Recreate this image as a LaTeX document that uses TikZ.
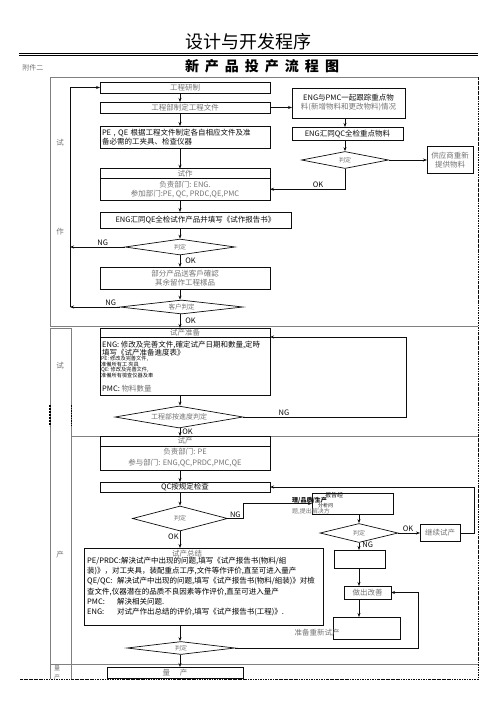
\documentclass[tikz,border=0pt]{standalone}
\usepackage{fontspec}
\setmainfont{Noto Sans CJK SC}
\usepackage{tikz}
\usetikzlibrary{arrows.meta, calc, positioning, shapes.geometric}
\definecolor{mainBlack}{gray}{0.05}
\definecolor{subGray}{gray}{0.45}
\definecolor{lineGray}{gray}{0.5}

\begin{document}
\begin{tikzpicture}[x=1pt, y=-1pt, >={Stealth[length=4pt,width=3pt]},
    box/.style={draw, mainBlack, text=mainBlack, line width=0.7pt, inner sep=1pt, outer sep=0pt, font=\fontsize{7.5}{9}\selectfont, align=center},
    gbox/.style={box, text=subGray},
    judge/.style={draw, diamond, mainBlack, line width=0.7pt, inner sep=0pt, text=subGray, font=\fontsize{6}{7}\selectfont},
    flow/.style={->, mainBlack, line width=0.7pt},
    lbl/.style={font=\fontsize{7.5}{8}\selectfont, inner sep=1pt, text=mainBlack},
    tinytxt/.style={font=\fontsize{5.2}{5.2}\selectfont, inner sep=0pt, text=mainBlack},
    frame/.style={lineGray, line width=0.6pt},
    edge/.style={mainBlack, line width=0.6pt, dash pattern=on 2.5pt off 1pt on 0.6pt off 1pt}]

    \useasboundingbox (0,0) rectangle (496,702);
    \coordinate (col) at (180,0);  % main column
    \coordinate (col2) at (345,0);
    \coordinate (col3) at (359,0);
    \coordinate (loop) at (70,0);
    \coordinate (ng3) at (406,0);
    \coordinate (rl) at (418,0);

    % Title
    \node[font=\fontsize{18}{20}\selectfont] (title) at (248,42) {设计与开发程序};
    \draw[line width=1pt] (19,53) -- (478,53);
    \draw[line width=0.5pt] (19,55.6) -- (478,55.6);
    \node[font=\fontsize{7}{8}\selectfont, text=subGray] (fj) at (33,68) {附件二};
    \node[font=\fontsize{14}{16}\selectfont\bfseries] (sub) at (262,66) {新\hspace{6pt}产\hspace{6pt}品\hspace{6pt}投\hspace{6pt}产\hspace{6pt}流\hspace{6pt}程\hspace{6pt}图};

    % Frames
    \draw[frame] (478,77) -- (50,77) -- (50,326) -- (478,326);
    \draw[frame] (50,679) -- (50,328) -- (71,328) -- (71,679);
    \draw[frame] (71,436) -- (478,436);
    \draw[frame] (50,664) -- (478,664);
    \draw[edge] (478,77) -- (478,679);
    \draw[edge] (20,679) -- (478,679);
    \draw[line width=1.2pt, dash pattern=on 2pt off 1pt] (50,405) -- (50,426);
    \draw[line width=0.8pt, dash pattern=on 1.5pt off 1pt] (71,405) -- (71,426);

    % Section labels
    \node[lbl, text=subGray] (s1a) at (60,143) {试};
    \node[lbl, text=subGray] (s1b) at (60,232) {作};
    \node[lbl, text=subGray] (s2a) at (60,366) {试};
    \node[lbl, text=subGray] (s2b) at (60,555) {产};
    \node[tinytxt, font=\fontsize{6}{6}\selectfont, text=subGray] (s3a) at (57,668) {量};
    \node[tinytxt, font=\fontsize{6}{6}\selectfont, text=subGray] (s3b) at (57,677) {产};

    % Trial making
    \node[gbox, minimum width=170pt, minimum height=11pt] (yz) at (185,87.5) {工程研制};
    \node[gbox, minimum width=170pt, minimum height=11pt] (wj) at (185,107.5) {工程部制定工程文件};
    \node[box, minimum width=113pt, minimum height=30pt] (gz) at (348.5,103) {ENG与PMC一起跟踪重点物\\\textcolor{subGray}{料(新增物料和更改物料)情况}};
    \node[box, minimum width=170pt, minimum height=22pt, align=left, text width=166pt] (pe) at (185,137) {PE , QE 根据工程文件制定各自相应文件及准\\备必需的工夹具、检查仪器};
    \node[box, minimum width=111pt, minimum height=13pt] (qc1) at (347.5,133.5) {ENG汇同QC全检重点物料};
    \node[judge, aspect=5.1, minimum width=87pt, minimum height=17pt] (dr1) at (345,160) {判定};
    \node[gbox, minimum width=46pt, minimum height=27pt] (gy) at (450,160) {供应商重新\\提供物料};
    \node[gbox, minimum width=170pt, minimum height=9.5pt] (szh) at (185,173.5) {试作};
    \node[gbox, minimum width=170pt, minimum height=22pt, below=0pt of szh] (szb) {负责部门: ENG.\\参加部门:PE, QC, PRDC,QE,PMC};
    \node[box, minimum width=191pt, minimum height=16pt] (qe) at (195.5,220) {ENG汇同QE全检试作产品并填写《试作报告书》};
    \node[judge, aspect=6.9, minimum width=110pt, minimum height=16pt] (dj1) at (180,247) {判定};
    \node[gbox, minimum width=170pt, minimum height=22pt] (kh) at (185,278) {部分产品送客戶確認\\其余留作工程樣品};
    \node[judge, aspect=8.8, minimum width=123pt, minimum height=14pt, font=\fontsize{6.5}{7}\selectfont] (dj2) at (181.5,307) {客户判定};

    \draw[flow] (yz.south -| col) -- (wj.north -| col);
    \draw[flow] (wj.south -| col) -- (pe.north -| col);
    \draw[flow] (pe.south -| col) -- (szh.north -| col);
    \draw[flow] (szb.south -| col) -- (qe.north -| col);
    \draw[flow] (qe.south -| col) -- (dj1.north);
    \draw[flow] (dj1.south) -- (kh.north -| col) node[lbl, right, pos=0.5, xshift=4pt] {OK};
    \draw[flow] (kh.south -| col) -- (dj2.north -| col);
    \draw[flow] (wj.east) -- (wj.east -| gz.west);
    \draw[flow] (gz.south -| col2) -- (qc1.north -| col2);
    \draw[flow] (qc1.south -| col2) -- (dr1.north);
    \draw[flow] (dr1.east) -- (dr1.east -| gy.west);
    \draw[flow] (dr1.south) |- node[lbl, above, pos=0.68] {OK} (szb.east);
    \draw[flow] (dj1.west) -- node[lbl, above, pos=0.4] {NG} (dj1.west -| loop);
    \draw[flow] (dj2.west) -- node[lbl, above, pos=0.18] {NG} (dj2.west -| loop);
    \draw[flow] (dj2.west -| loop) |- (yz.west);

    % Trial production: preparation
    \node[gbox, minimum width=170pt, minimum height=9pt] (zbh) at (185,332.5) {试产准备};
    \node[box, minimum width=170pt, minimum height=58pt, below=0pt of zbh] (zbb) {};
    \draw[flow] (dj2.south -| col) -- node[lbl, right, pos=0.45, xshift=4pt] {OK} (zbh.north -| col);
    \node[lbl, anchor=west] (zb1) at (101,345) {ENG: 修改及完善文件,確定试产日期和數量,定時};
    \node[lbl, anchor=west] (zb2) at (101,352.5) {填写《试产准备進度表》};
    \node[tinytxt, anchor=west] (zb3) at (101,359) {PE: 修改及完善文件,};
    \node[tinytxt, anchor=west] (zb4) at (101,364.5) {准備所有工 夾具};
    \node[tinytxt, anchor=west] (zb5) at (101,370) {QE: 修改及完善文件,};
    \node[tinytxt, anchor=west] (zb6) at (101,375.5) {准備所有檢查仪器及車};
    \node[lbl, anchor=west] (zb7) at (101,389) {PMC: \textcolor{subGray}{物料數量}};
    \node[judge, aspect=5.8, minimum width=128pt, minimum height=22pt, font=\fontsize{7}{7}\selectfont] (dj3) at (179,417) {工程部按進度判定};
    \draw[flow] (zbb.south -| col) -- (dj3.north -| col);
    \draw[flow] (dj3.east) -- node[lbl, above, pos=0.25] {NG} (dj3.east -| ng3) |- (zbh.south east);

    % Trial production
    \node[gbox, minimum width=170pt, minimum height=10pt] (sch) at (185,441) {试产};
    \node[gbox, minimum width=170pt, minimum height=24pt, below=0pt of sch, font=\fontsize{7.5}{11}\selectfont] (scb) {负责部门: PE\\参与部门: ENG,QC,PRDC,PMC,QE};
    \draw[flow] (dj3.south -| col) -- node[lbl, right, pos=0.4, xshift=1pt] {OK} (sch.north -| col);
    \node[box, minimum width=170pt, minimum height=10pt] (qc2) at (185,487) {QC按规定检查};
    \node[judge, aspect=3.8, minimum width=95pt, minimum height=25pt] (dj4) at (180,518.5) {判定};
    \node[box, minimum width=81pt, minimum height=21pt] (bg) at (352.5,503.5) {};
    \node[tinytxt, font=\fontsize{6}{6}\selectfont] (bg1) at (334,495) {报告经};
    \node[tinytxt, anchor=west, font=\fontsize{6}{6}\selectfont\bfseries] (bg2) at (292,500) {理/品质/生产};
    \node[tinytxt, anchor=west, font=\fontsize{5}{5}\selectfont] (bg3) at (318,505.5) {分析问};
    \node[tinytxt, anchor=west, font=\fontsize{6}{6}\selectfont, text=subGray] (bg4) at (292,512) {题,提出解决方};
    \node[judge, aspect=4.1, minimum width=78pt, minimum height=19pt] (dr2) at (359,533) {判定};
    \node[gbox, minimum width=40pt, minimum height=17pt] (jx) at (440,533) {继续试产};
    \node[box, minimum width=51pt, minimum height=18pt] (e1) at (359.5,559) {};
    \node[gbox, minimum width=47pt, minimum height=13pt] (gs) at (367.5,592.5) {做出改善};
    \node[box, minimum width=67pt, minimum height=22pt] (e2) at (366.5,628) {};
    \node[lbl, text=subGray] (cx) at (317,633) {准备重新试产};
    \node[box, minimum width=239pt, minimum height=77pt] (zj) at (203.5,586.5) {};
    \node[lbl, text=subGray] (zjh) at (187,554) {试产总结};
    \node[anchor=north west, align=left, inner sep=0pt, font=\fontsize{7.5}{10.2}\selectfont] (zjt) at (87,557)
        {\makebox[34pt][l]{PE/PRDC:}解決试产中出现的问题,填写《试产报告书(物料/組\\
         装)》，对工夹具，装配重点工序,文件等作评价,直至可进入量产\\
         \makebox[30pt][l]{QE/QC:}解决试产中出现的问题,填写《试产报告书(物料/組装)》对檢\\
         查文件,仪器潜在的品质不良因素等作评价,直至可进入量产\\
         \makebox[30pt][l]{PMC:}解決相关问题.\\
         \makebox[30pt][l]{ENG:}对试产作出总结的评价,填写《试产报告书(工程)》.};
    \node[judge, aspect=8.3, minimum width=108pt, minimum height=13pt] (dj5) at (181,648) {判定};
    \node[gbox, minimum width=136pt, minimum height=11pt] (lc) at (175,672.5) {量\hspace{10pt}产};

    \draw[flow] (scb.south -| col) -- (qc2.north -| col);
    \draw[flow] (qc2.south -| col) -- (dj4.north);
    \draw[flow] (dj4.south) -- node[lbl, left, pos=0.3] {OK} (zj.north -| col);
    \draw[flow] (dj4.east) -- node[lbl, above, pos=0.5] {NG} ++(15,0) |- (bg.west);
    \draw[flow] (bg.south -| col3) -- (dr2.north);
    \draw[flow] (dr2.east) -- node[lbl, above, pos=0.45] {OK} (jx.west);
    \draw[flow] (dr2.south) -- node[lbl, right, pos=0.3, xshift=2pt] {NG} (e1.north -| col3);
    \draw[flow] (e1.south -| col3) -- (gs.north -| col3);
    \draw[flow] (gs.south -| col3) -- (e2.north -| col3);
    \draw[flow] (jx.east) -- ++(14,0) |- (qc2.east);
    \draw[flow] (zj.south -| col) -- (dj5.north -| col);
    \draw[flow] (dj5.east) -- (dj5.east -| rl) |- (gs.east);
    \draw[flow] (dj5.south -| col) -- (lc.north -| col);
\end{tikzpicture}
\end{document}
